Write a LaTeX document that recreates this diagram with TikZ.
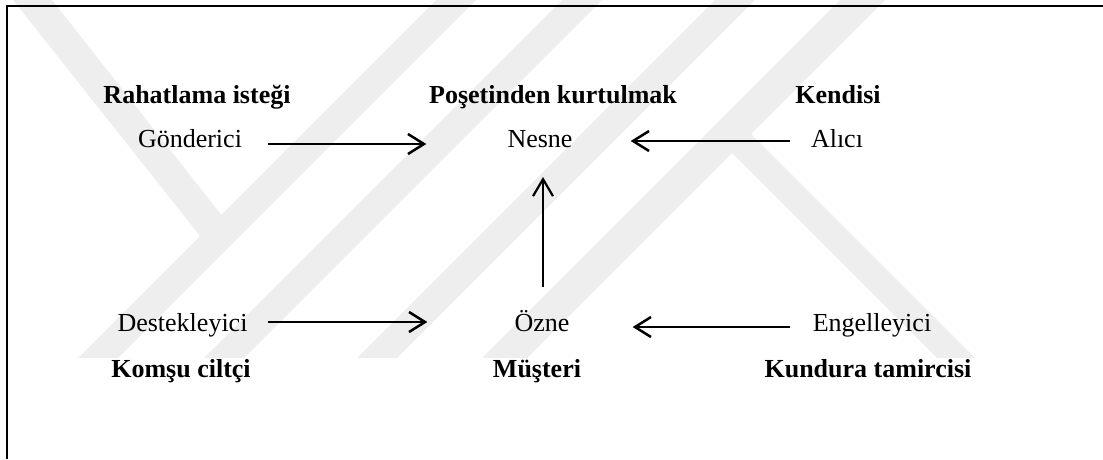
\documentclass[tikz,border=0pt]{standalone}
\usepackage{fontspec}
\setmainfont{Liberation Serif}
\usetikzlibrary{arrows.meta,calc}
\definecolor{wm}{RGB}{238,238,238}
\begin{document}
\begin{tikzpicture}[x=1pt,y=-1pt,
  lbl/.style={font=\fontsize{26}{30}\selectfont, anchor=base, inner sep=0pt},
  role/.style={font=\fontsize{26}{30}\selectfont\bfseries, anchor=base, inner sep=0pt},
  arr/.style={line width=2.5pt, -{Straight Barb[length=16pt,width=20pt]}},
  varr/.style={line width=2.2pt, -{Straight Barb[length=17pt,width=20pt]}},
  frameline/.style={line width=2pt}]
\useasboundingbox (0,0) rectangle (1103,459);
% watermark
\fill[wm] (13,0) -- (52,0) -- (223,217) -- (200,236) -- cycle;
\fill[wm] (436,0) -- (476,0) -- (118,358) -- (78,358) -- cycle;
\fill[wm] (562,0) -- (602,0) -- (244,358) -- (204,358) -- cycle;
\fill[wm] (715,0) -- (755,0) -- (397,358) -- (357,358) -- cycle;
\fill[wm] (840,0) -- (885,0) -- (527,358) -- (482,358) -- cycle;
\fill[wm] (728.5,111.5) -- (975,358) -- (937,358) -- (732,153) -- cycle;
% frame
\draw[frameline] (7,459) -- (7,6) -- (1103,6);
% labels
\node[role] (r1) at (197,103) {Rahatlama isteği};
\node[role] (r2) at (553,103) {Poşetinden kurtulmak};
\node[role] (r3) at (838,103) {Kendisi};
\node[lbl] (gon) at (190,147) {Gönderici};
\node[lbl] (nes) at (540,147) {Nesne};
\node[lbl] (ali) at (837,147) {Alıcı};
\node[lbl] (des) at (182.5,331) {Destekleyici};
\node[lbl] (ozn) at (542,331) {Özne};
\node[lbl] (eng) at (872,331) {Engelleyici};
\node[role] (r4) at (181,377) {Komşu ciltçi};
\node[role] (r5) at (537,377) {Müşteri};
\node[role] (r6) at (868,377) {Kundura tamircisi};
% arrows
\draw[arr] ($(gon.base east)+(26,-3)$) -- ($(nes.base west)+(-81,-3)$);
\draw[arr] ($(ali.base west)+(-21,-6)$) -- ($(nes.base east)+(58,-6)$);
\draw[arr] ($(des.base east)+(20,-9)$) -- ($(ozn.base west)+(-87,-9)$);
\draw[arr] ($(eng.base west)+(-23,-4)$) -- ($(ozn.base east)+(63,-4)$);
\draw[varr] ($(ozn.base)+(1,-44)$) -- ($(nes.base)+(3,30)$);
\end{tikzpicture}
\end{document}
